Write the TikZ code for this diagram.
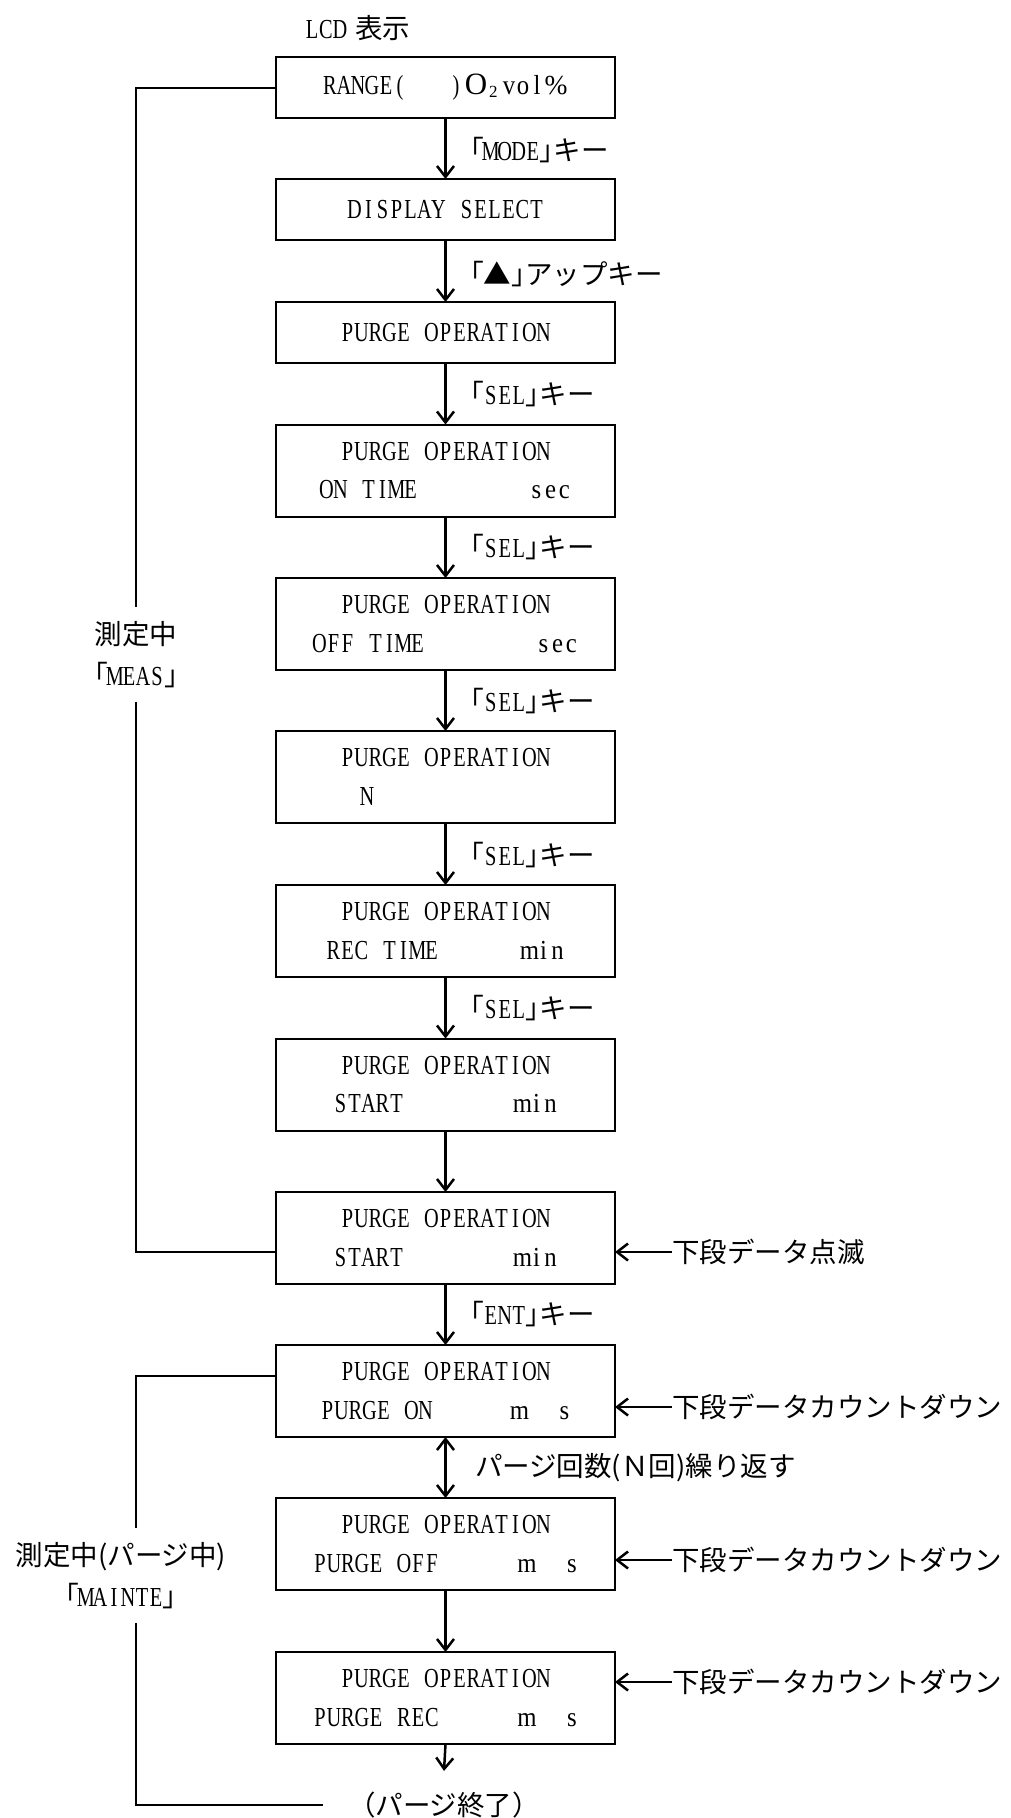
\documentclass[tikz,border=0pt]{standalone}
\usepackage{fontspec}
\setmainfont{Liberation Serif}[FakeStretch=0.74]
\newfontfamily\jp{Noto Sans CJK JP}
\newfontfamily\wide{Liberation Serif}
\newfontfamily\lowf{Liberation Serif}[FakeStretch=0.9]
\usetikzlibrary{arrows.meta,calc}
\makeatletter
\def\monotxt#1{\monotxt@#1\monotxt@end}
\def\monotxt@#1{\ifx#1\monotxt@end\else\makebox[14pt]{#1}\expandafter\monotxt@\fi}
\makeatother
\newcommand\lowtxt[1]{{\lowf\monotxt{#1}}}
\tikzset{
  every node/.style={inner sep=0pt, outer sep=0pt},
  lcd/.style={draw, line width=2pt, minimum width=339pt, align=center},
  onebox/.style={lcd, minimum height=61pt},
  twobox/.style={lcd, minimum height=92pt},
  flow/.style={line width=2.5pt, -{Straight Barb[length=11pt,width=17pt]}},
  flowboth/.style={line width=2.5pt, {Straight Barb[length=11pt,width=17pt]}-{Straight Barb[length=11pt,width=17pt]}},
  looppath/.style={line width=2pt},
  note/.style={anchor=west, font=\fontsize{27.5}{38.5}\selectfont\jp},
  keylab/.style={anchor=west},
  sidelab/.style={align=center, inner ysep=14pt}
}
\begin{document}
\begin{tikzpicture}[x=1pt,y=-1pt, font=\fontsize{27.5}{38.5}\selectfont]
\useasboundingbox (0,0) rectangle (1010,1818);

\node[anchor=west] (lcd) at (305,28) {\monotxt{LCD}\hspace{8pt}{\jp 表示}};

\node[onebox] (b1) at (445.5,87.5) {\monotxt{RANGE(~~~)}\makebox[26pt]{\wide\fontsize{31}{31}\selectfont O}\makebox[13pt][l]{\raisebox{-3pt}{\wide\fontsize{17}{17}\selectfont 2}}\lowtxt{vol}\makebox[24pt]{\wide\%}};
\node[onebox] (b2) at (445.5,209.5) {\monotxt{DISPLAY~SELECT}};
\node[onebox] (b3) at (445.5,332.5) {\monotxt{PURGE~OPERATION}};
\node[twobox] (b4) at (445.5,470.5) {\monotxt{PURGE~OPERATION}\\\monotxt{ON~TIME~~~~~~~~}\lowtxt{sec}};
\node[twobox] (b5) at (445.5,624) {\monotxt{PURGE~OPERATION}\\\monotxt{OFF~TIME~~~~~~~~}\lowtxt{sec}};
\node[twobox] (b6) at (445.5,777) {\monotxt{PURGE~OPERATION}\\\makebox[171pt][l]{\monotxt{N}}};
\node[twobox] (b7) at (445.5,931) {\monotxt{PURGE~OPERATION}\\\monotxt{REC~TIME~~~~~~}\lowtxt{min}};
\node[twobox] (b8) at (445.5,1084.5) {\monotxt{PURGE~OPERATION}\\\monotxt{START~~~~~~~~}\lowtxt{min}};
\node[twobox] (b9) at (445.5,1238) {\monotxt{PURGE~OPERATION}\\\monotxt{START~~~~~~~~}\lowtxt{min}};
\node[twobox] (b10) at (445.5,1391) {\monotxt{PURGE~OPERATION}\\\makebox[192pt][l]{\monotxt{PURGE~ON}}\makebox[45pt][l]{\lowtxt{m}}\makebox[13pt][l]{\lowtxt{s}}};
\node[twobox] (b11) at (445.5,1544) {\monotxt{PURGE~OPERATION}\\\makebox[207pt][l]{\monotxt{PURGE~OFF}}\makebox[45pt][l]{\lowtxt{m}}\makebox[13pt][l]{\lowtxt{s}}};
\node[twobox] (b12) at (445.5,1698) {\monotxt{PURGE~OPERATION}\\\makebox[207pt][l]{\monotxt{PURGE~REC}}\makebox[45pt][l]{\lowtxt{m}}\makebox[13pt][l]{\lowtxt{s}}};

% key labels
\node[keylab] (k1) at (470,150) {{\jp ｢}\monotxt{MODE}{\jp ｣キー}};
\node[keylab] (k2) at (470,274) {{\jp ｢▲｣アップキー}};
\node[keylab] (k3) at (470,394) {{\jp ｢}\monotxt{SEL}{\jp ｣キー}};
\node[keylab] (k4) at (470,547) {{\jp ｢}\monotxt{SEL}{\jp ｣キー}};
\node[keylab] (k5) at (470,701) {{\jp ｢}\monotxt{SEL}{\jp ｣キー}};
\node[keylab] (k6) at (470,855) {{\jp ｢}\monotxt{SEL}{\jp ｣キー}};
\node[keylab] (k7) at (470,1008) {{\jp ｢}\monotxt{SEL}{\jp ｣キー}};
\node[keylab] (k8) at (470,1314) {{\jp ｢}\monotxt{ENT}{\jp ｣キー}};
\node[keylab] (k9) at (475,1468) {\jp パージ回数(Ｎ回)繰り返す};

% flow arrows
\draw[flow] (b1.south) -- (b2.north);
\draw[flow] (b2.south) -- (b3.north);
\draw[flow] (b3.south) -- (b4.north);
\draw[flow] (b4.south) -- (b5.north);
\draw[flow] (b5.south) -- (b6.north);
\draw[flow] (b6.south) -- (b7.north);
\draw[flow] (b7.south) -- (b8.north);
\draw[flow] (b8.south) -- (b9.north);
\draw[flow] (b9.south) -- (b10.north);
\draw[flowboth] (b10.south) -- (b11.north);
\draw[flow] (b11.south) -- (b12.north);

\node[inner xsep=25pt, inner ysep=21pt] (fin) at (444,1805) {\jp （パージ終了）};
\draw[flow] (b12.south) -- (fin.north);

% right notes
\node[note] (n9) at (672,1252) {下段データ点滅};
\node[note] (n10) at (672,1407) {下段データカウントダウン};
\node[note] (n11) at (672,1560) {下段データカウントダウン};
\node[note] (n12) at (672,1682) {下段データカウントダウン};
\draw[flow] (n9.west) -- (n9.west -| b9.east);
\draw[flow] (n10.west) -- (n10.west -| b10.east);
\draw[flow] (n11.west) -- (n11.west -| b11.east);
\draw[flow] (n12.west) -- (n12.west -| b12.east);

% left loops
\node[sidelab] (meas) at (136,654.5) {{\jp 測定中}\\[2.5pt]{\jp ｢}\monotxt{MEAS}{\jp ｣}};
\draw[looppath] (b1.west) -| (meas.north);
\draw[looppath] (meas.south) |- (b9.west |- n9.west);

\node[sidelab] (maint) at (121,1575.5) {{\jp 測定中(パージ中)}\\[2.5pt]{\jp ｢}\monotxt{MAINTE}{\jp ｣}};
\coordinate (c10) at ($(b10.west)+(0,-15)$);
\draw[looppath] (c10) -| ([xshift=15pt]maint.north);
\draw[looppath] ([xshift=15pt]maint.south) |- (fin.west);
\end{tikzpicture}
\end{document}
